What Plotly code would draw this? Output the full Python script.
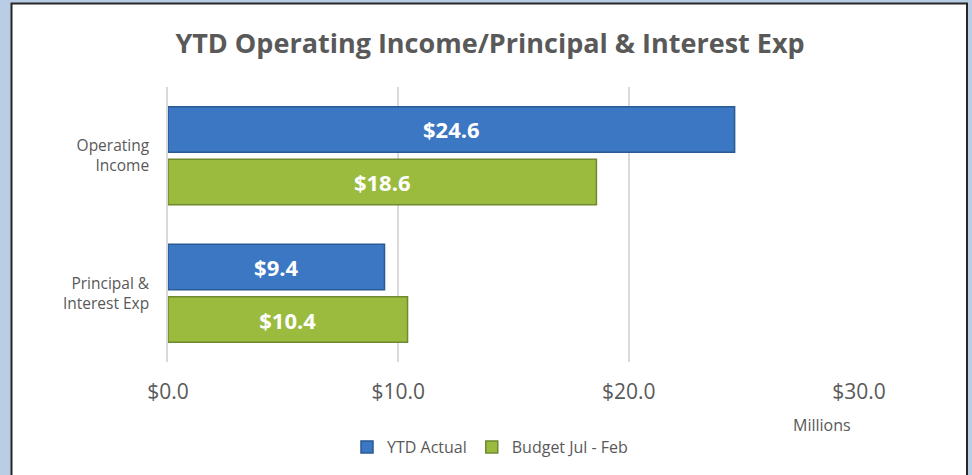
import plotly.graph_objects as go

categories = ["Operating<br>Income", "Principal &<br>Interest Exp"]
series_names = ["YTD Actual", "Budget Jul - Feb"]
ytd_actual = [24.6, 9.4]
budget = [18.6, 10.4]
tick_vals = [0, 10, 20, 30]
tick_text = ["$0.0", "$10.0", "$20.0", "$30.0"]

FONT = "Open Sans"
GRAY = "#595959"

fig = go.Figure()
fig.add_trace(go.Bar(
    y=categories, x=ytd_actual, name=series_names[0], orientation="h",
    marker=dict(color="#3b77c2", line=dict(color="#2a5a92", width=1.5)),
    text=[f"${v:.1f}" for v in ytd_actual], textposition="inside",
    insidetextanchor="middle", textangle=0, constraintext="none",
    textfont=dict(family=FONT, size=22, color="white", weight="bold"),
))
fig.add_trace(go.Bar(
    y=categories, x=budget, name=series_names[1], orientation="h",
    marker=dict(color="#9bbb3f", line=dict(color="#6f8a2e", width=1.5)),
    text=[f"${v:.1f}" for v in budget], textposition="inside",
    insidetextanchor="middle", textangle=0, constraintext="none",
    textfont=dict(family=FONT, size=22, color="white", weight="bold"),
))

L, R, T, B = 168, 113, 87, 113
W, H = 972, 475
pw, ph = W - L - R, H - T - B

def px_x(p):
    return (p - L) / pw

def px_y(p):
    return (H - B - p) / ph

fig.add_shape(type="rect", xref="paper", yref="paper",
              x0=px_x(11.5), x1=px_x(967), y0=px_y(490), y1=px_y(3.5),
              fillcolor="white", line=dict(color="#262626", width=2), layer="below")

fig.add_annotation(text="Millions", xref="paper", yref="paper",
                   x=px_x(822), y=px_y(425), showarrow=False,
                   xanchor="center", yanchor="middle",
                   font=dict(family=FONT, size=16, color=GRAY))

fig.update_layout(
    width=W, height=H,
    margin=dict(l=L, r=R, t=T, b=B, autoexpand=False),
    paper_bgcolor="#b9cde5", plot_bgcolor="white",
    barmode="group", bargap=0.236, bargroupgap=0.133,
    title=dict(text="<b>YTD Operating Income/Principal & Interest Exp</b>",
               x=490 / W, xref="container", xanchor="center",
               y=1 - 44 / H, yref="container", yanchor="middle",
               font=dict(family=FONT, size=27, color=GRAY)),
    legend=dict(orientation="h", x=490 / W, xref="container", xanchor="center",
                y=1 - 447 / H, yref="container", yanchor="middle",
                traceorder="normal",
                font=dict(family=FONT, size=16, color=GRAY),
                bgcolor="rgba(0,0,0,0)", itemwidth=30),
    showlegend=True,
)
fig.update_xaxes(range=[0, 30], tickvals=tick_vals, ticktext=tick_text,
                 showgrid=True, gridcolor="#d9d9d9", gridwidth=1.5,
                 zeroline=False, showline=False, automargin=False,
                 ticklabelstandoff=15,
                 tickfont=dict(family=FONT, size=21, color=GRAY))
fig.update_yaxes(autorange="reversed", showline=True, linecolor="#d9d9d9",
                 linewidth=1.5, showgrid=False, ticklabelstandoff=14,
                 automargin=False,
                 tickfont=dict(family=FONT, size=15.5, color=GRAY))

fig.write_html("out.html", config={"displayModeBar": False},
               post_script="document.body.style.margin='0';document.body.style.padding='0';document.body.style.background='#b9cde5';")
